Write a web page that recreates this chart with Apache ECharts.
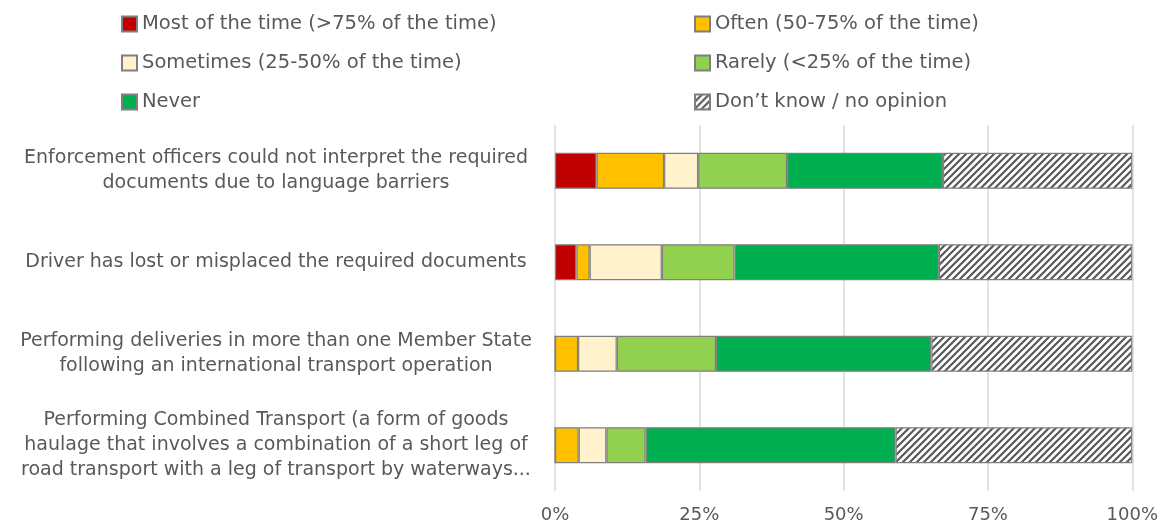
<!DOCTYPE html>
<html>
<head>
<meta charset="utf-8">
<title>Document problems</title>
<script src="https://cdn.jsdelivr.net/npm/echarts@6/dist/echarts.min.js"></script>
<style>
  html, body { margin: 0; padding: 0; background: #fff; }
  #main { width: 1161px; height: 524px; }
</style>
</head>
<body>
<div id="main"></div>
<script>
  // categories (top to bottom)
  const categories = [
    'Enforcement officers could not interpret the required\ndocuments due to language barriers',
    'Driver has lost or misplaced the required documents',
    'Performing deliveries in more than one Member State\nfollowing an international transport operation',
    'Performing Combined Transport (a form of goods\nhaulage that involves a combination of a short leg of\nroad transport with a leg of transport by waterways...'
  ]
  const xTicks = ['0%', '25%', '50%', '75%', '100%']

  // shares in %
  const mostOfTime = [7.2, 3.7, 0, 0]
  const often = [11.7, 2.3, 4.0, 4.1]
  const sometimes = [5.9, 12.5, 6.7, 4.8]
  const rarely = [15.4, 12.6, 17.2, 6.8]
  const never = [27.0, 35.4, 37.3, 43.3]
  const dontKnow = [32.8, 33.5, 34.8, 41.0]

  const names = [
    'Most of the time (>75% of the time)',
    'Often (50-75% of the time)',
    'Sometimes (25-50% of the time)',
    'Rarely (<25% of the time)',
    'Never',
    'Don\u2019t know / no opinion'
  ]

  // hatch pattern for "don't know"
  function makeHatch () {
    let c = document.createElement('canvas')
    c.width = 7
    c.height = 7
    let ctx = c.getContext('2d')
    ctx.fillStyle = '#ffffff'
    ctx.fillRect(0, 0, 7, 7)
    ctx.strokeStyle = '#595959'
    ctx.lineWidth = 2.2
    ctx.beginPath()
    ctx.moveTo(-1, 8); ctx.lineTo(8, -1)
    ctx.moveTo(-1, 1); ctx.lineTo(1, -1)
    ctx.moveTo(6, 8); ctx.lineTo(8, 6)
    ctx.stroke()
    return c
  }

  const font = 'DejaVu Sans'
  const grey = '#595959'

  function bar (name, data, color) {
    return {
      name: name,
      type: 'bar',
      stack: 'total',
      barWidth: 36,
      data: data,
      itemStyle: { color: color, borderColor: '#7f7f7f', borderWidth: 1.2 }
    }
  }

  function legendCol (left, items) {
    return {
      orient: 'vertical',
      left: left,
      top: 9,
      itemWidth: 15,
      itemHeight: 15,
      itemGap: 19,
      icon: 'rect',
      data: items,
      textStyle: { fontFamily: font, fontSize: 19.5, color: grey }
    }
  }

  let chart = echarts.init(document.getElementById('main'))
  chart.setOption({
    animation: false,
    legend: [
      legendCol(116, [names[0], names[2], names[4]]),
      legendCol(689, [names[1], names[3], names[5]])
    ],
    grid: { left: 555, right: 26, top: 125, bottom: 32, containLabel: false },
    xAxis: {
      type: 'value',
      min: 0,
      max: 100,
      interval: 25,
      axisLine: { show: false },
      axisTick: { show: false },
      splitLine: { lineStyle: { color: '#d9d9d9', width: 1.5 } },
      axisLabel: {
        margin: 15,
        fontFamily: font,
        fontSize: 18,
        color: grey,
        formatter: function (v) { return xTicks[v / 25] }
      }
    },
    yAxis: {
      type: 'category',
      inverse: true,
      data: categories,
      axisLine: { show: false },
      axisTick: { show: false },
      axisLabel: {
        align: 'center',
        margin: 279,
        fontFamily: font,
        fontSize: 19,
        lineHeight: 25,
        color: grey
      }
    },
    series: [
      bar(names[0], mostOfTime, '#c00000'),
      bar(names[1], often, '#ffc000'),
      bar(names[2], sometimes, '#fff2cc'),
      bar(names[3], rarely, '#92d050'),
      bar(names[4], never, '#00b050'),
      bar(names[5], dontKnow, { image: makeHatch(), repeat: 'repeat' })
    ]
  })
</script>
</body>
</html>
